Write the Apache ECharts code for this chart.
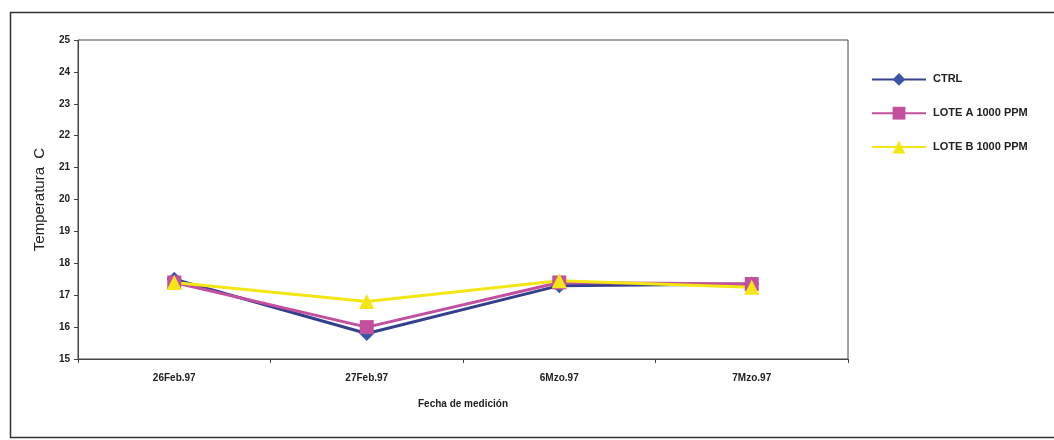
<!DOCTYPE html>
<html>
<head>
<meta charset="utf-8">
<script src="https://cdn.jsdelivr.net/npm/echarts@6/dist/echarts.min.js"></script>
<style>
  html, body { margin: 0; padding: 0; background: #ffffff; }
  #chart { width: 1054px; height: 440px; }
</style>
</head>
<body>
<div id="chart"></div>
<script>
// Measurement dates and temperatures (°C) per lot
const fechas = ['26Feb.97', '27Feb.97', '6Mzo.97', '7Mzo.97'];
const ctrl = [17.5, 15.8, 17.3, 17.35];
const loteA = [17.4, 16.0, 17.4, 17.35];
const loteB = [17.4, 16.8, 17.45, 17.25];
const yTicks = [15, 16, 17, 18, 19, 20, 21, 22, 23, 24, 25];

const labelFont = { fontFamily: 'Liberation Sans, Arial, sans-serif', fontWeight: 'bold', fontSize: 10, color: '#222' };

const chart = echarts.init(document.getElementById('chart'), null, { renderer: 'canvas' });

function serie(name, data, color, symbol, size, lineColor) {
  return {
    name: name,
    type: 'line',
    data: data,
    symbol: symbol,
    symbolSize: size,
    showSymbol: true,
    lineStyle: { color: lineColor || color, width: 3 },
    itemStyle: { color: color },
    emphasis: { disabled: true },
    animation: false
  };
}

chart.setOption({
  animation: false,
  graphic: [{
    type: 'rect',
    shape: { x: 10.5, y: 12.5, width: 1060, height: 425 },
    style: { fill: 'none', stroke: '#333', lineWidth: 1.5 },
    z: -1
  }],
  grid: {
    left: 78, top: 40, width: 770, height: 319,
    show: true, borderColor: '#444', borderWidth: 1, backgroundColor: 'transparent'
  },
  legend: {
    orient: 'vertical',
    left: 866, top: 68,
    itemWidth: 54, itemHeight: 16, itemGap: 21,
    textStyle: { fontFamily: 'Liberation Sans, Arial, sans-serif', fontWeight: 'bold', fontSize: 11, color: '#222', padding: [0, 0, 0, 2] },
    data: ['CTRL', 'LOTE A 1000 PPM', 'LOTE B 1000 PPM']
  },
  xAxis: {
    type: 'category',
    data: fechas,
    boundaryGap: true,
    name: 'Fecha de medición',
    nameLocation: 'middle',
    nameGap: 40,
    nameTextStyle: labelFont,
    axisLine: { lineStyle: { color: '#444', width: 1 } },
    axisTick: { show: true, length: 4, inside: false, lineStyle: { color: '#444' } },
    axisLabel: Object.assign({ margin: 14 }, labelFont),
    splitLine: { show: false }
  },
  yAxis: {
    type: 'value',
    min: yTicks[0],
    max: yTicks[yTicks.length - 1],
    interval: 1,
    name: 'Temperatura  C',
    nameLocation: 'middle',
    nameGap: 31,
    nameTextStyle: { fontFamily: 'Liberation Sans, Arial, sans-serif', fontSize: 15, color: '#222' },
    axisLine: { show: true, lineStyle: { color: '#444', width: 1 } },
    axisTick: { show: true, length: 4, lineStyle: { color: '#444' } },
    axisLabel: Object.assign({ margin: 8 }, labelFont),
    splitLine: { show: false }
  },
  series: [
    serie('CTRL', ctrl, '#3b56a8', 'diamond', 15, '#34408c'),
    serie('LOTE A 1000 PPM', loteA, '#c2509e', 'rect', 14),
    serie('LOTE B 1000 PPM', loteB, '#f4e614', 'triangle', 15)
  ]
});
</script>
</body>
</html>
